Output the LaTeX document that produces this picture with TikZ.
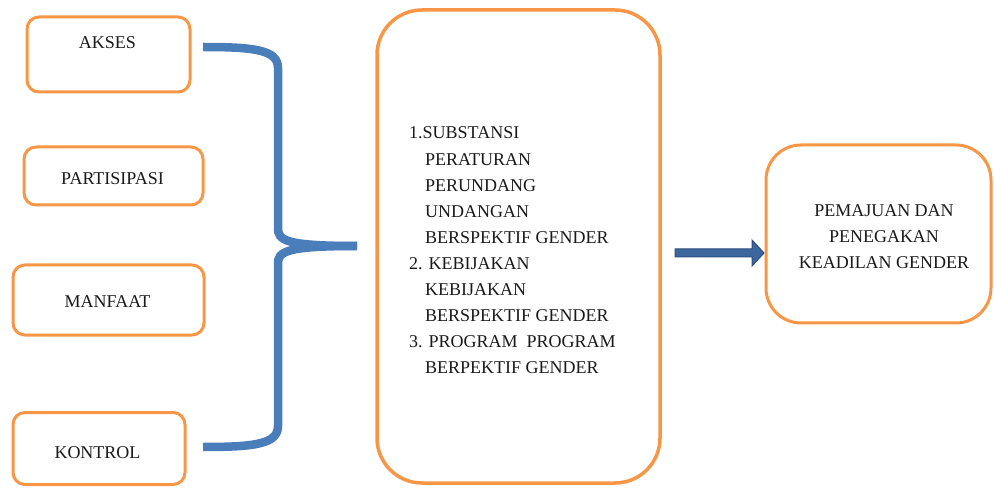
\documentclass[tikz,border=0pt]{standalone}
\usepackage{fontspec}
\setmainfont{Liberation Serif}
\usetikzlibrary{calc}
\definecolor{obord}{HTML}{F79646}
\definecolor{bbrace}{HTML}{4A7EBB}
\definecolor{afill}{HTML}{3D679C}
\definecolor{adraw}{HTML}{2C4F7E}
\definecolor{txt}{HTML}{1A1A1A}
\begin{document}
\begin{tikzpicture}[x=1pt,y=-1pt,
  obox/.style={draw=obord, line width=3pt, rounded corners=12pt, inner sep=0pt},
  lbl/.style={anchor=base, inner sep=0pt, font=\fontsize{18}{26}\selectfont, text=txt},
  bracestyle/.style={draw=bbrace, line width=8.5pt},
  blockarrow/.style={fill=afill, draw=adraw, line width=1pt, line join=miter}]
\useasboundingbox (0,0) rectangle (994,489);
% left boxes
\node[obox, minimum width=163pt, minimum height=75pt] (akses) at (108.5,54.5) {};
\node[obox, minimum width=179pt, minimum height=58pt] (partisipasi) at (113.5,176) {};
\node[obox, minimum width=191pt, minimum height=70pt] (manfaat) at (108.5,300) {};
\node[obox, minimum width=172pt, minimum height=72pt] (kontrol) at (99,448.5) {};
\node[lbl] (taks) at (107.5,49) {AKSES};
\node[lbl] (tpar) at (112.5,185) {PARTISIPASI};
\node[lbl] (tman) at (107.5,308) {MANFAAT};
\node[lbl] (tkon) at (97.5,458) {KONTROL};
% big box
\node[obox, rounded corners=45pt, line width=3.5pt, minimum width=283pt, minimum height=473pt] (big) at (518.5,246.5) {};
\node[anchor=base west, inner sep=0pt, text=txt] (mtext) at (409,139) {\parbox[t]{240pt}{\fontsize{18}{26.1}\selectfont\raggedright
1.SUBSTANSI\\
\hspace*{16pt}PERATURAN\\
\hspace*{16pt}PERUNDANG\\
\hspace*{16pt}UNDANGAN\\
\hspace*{16pt}BERSPEKTIF GENDER\\
2. KEBIJAKAN\\
\hspace*{16pt}KEBIJAKAN\\
\hspace*{16pt}BERSPEKTIF GENDER\\
3. PROGRAM\ \ PROGRAM\\
\hspace*{16pt}BERPEKTIF GENDER}};
% right box
\node[obox, rounded corners=35pt, minimum width=225pt, minimum height=178pt] (right) at (878.5,234) {};
\node[anchor=base, inner sep=0pt, text=txt, align=center, font=\fontsize{18}{26}\selectfont] (rtext) at (884,269) {PEMAJUAN DAN\\PENEGAKAN\\KEADILAN GENDER};
% brace
\coordinate (bt) at (203,47);
\coordinate (bm) at (357,246);
\coordinate (bb) at (203,447);
\draw[bracestyle] (bt) .. controls (255,47) and (278,50) .. (278,68) -- (278,228) .. controls (278,240) and (284,246) .. (bm);
\draw[bracestyle] (bb) .. controls (255,447) and (278,444) .. (278,426) -- (278,264) .. controls (278,252) and (284,246) .. (bm);
% arrow
\coordinate (as) at (675,253);
\coordinate (ae) at (764,253);
\path[blockarrow] ($(as)+(0,-4)$) -- ($(ae)+(-12,-4)$) -- ($(ae)+(-12,-13)$) -- (ae) -- ($(ae)+(-12,13)$) -- ($(ae)+(-12,4)$) -- ($(as)+(0,4)$) -- cycle;
\end{tikzpicture}
\end{document}
